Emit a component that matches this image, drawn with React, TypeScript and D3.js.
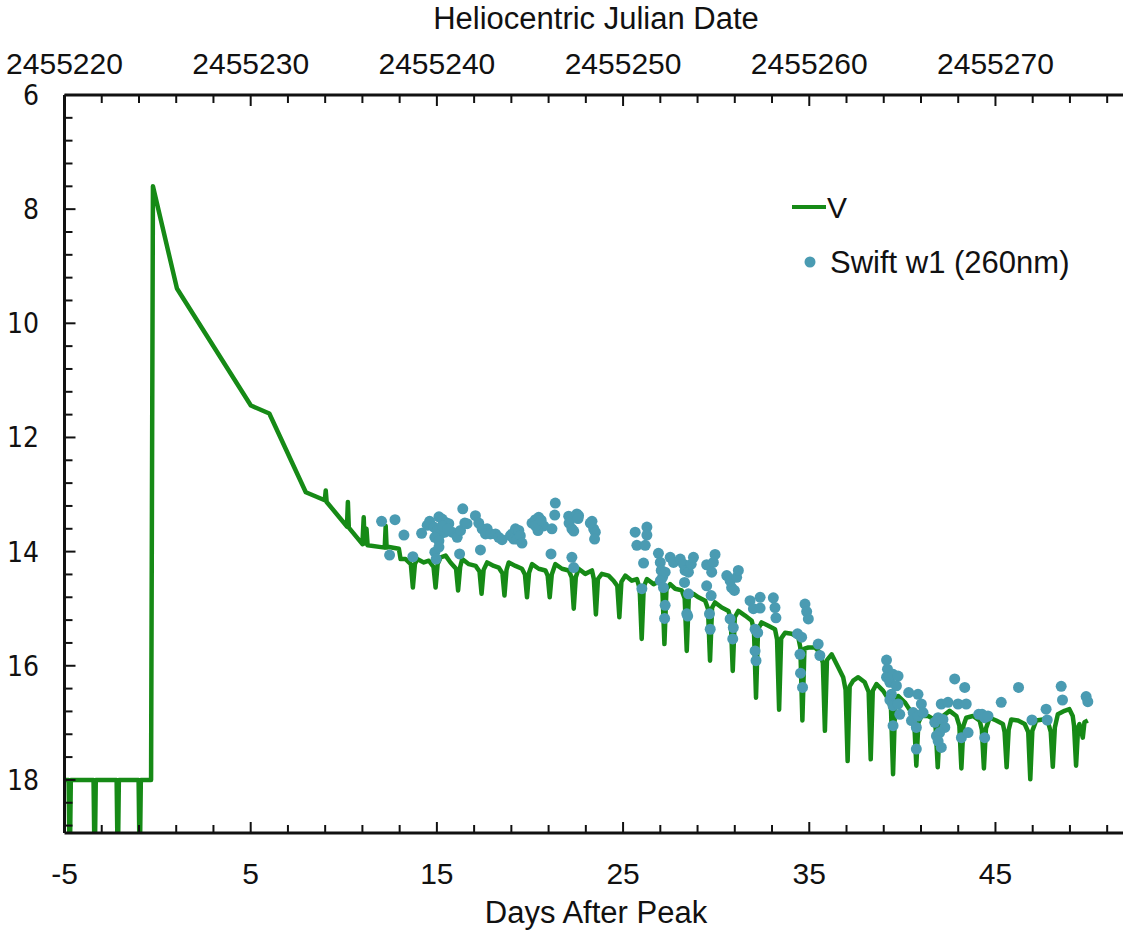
import React from "react";
import * as d3 from "d3";

const W = 1123;
const H = 931;

// axis tick labels
const dayLabels = [-5, 5, 15, 25, 35, 45];
const hjdLabels = ["2455220", "2455230", "2455240", "2455250", "2455260", "2455270"];
const magLabels = [6, 8, 10, 12, 14, 16, 18];

// V band light curve: pre-outburst + decline (days after peak, magnitude)
const vOutburst: [number, number][] = [
  [-5.0, 18.0], [-4.78, 18.0], [-4.72, 19.6], [-4.66, 18.0],
  [-3.44, 18.0], [-3.38, 19.6], [-3.32, 18.0],
  [-2.2, 18.0], [-2.14, 19.6], [-2.08, 18.0],
  [-1.02, 18.0], [-0.96, 19.6], [-0.9, 18.0],
  [-0.35, 18.0], [-0.25, 7.6], [1.04, 9.39], [5.01, 11.44], [6.0, 11.58],
  [7.96, 12.96], [8.98, 13.1], [9.03, 12.93], [9.08, 13.13],
  [10.17, 13.56], [10.22, 13.13], [10.27, 13.58],
  [11.0, 13.87], [11.07, 13.4], [11.12, 13.86], [11.22, 13.6], [11.28, 13.89],
  [12.2, 13.93], [12.25, 13.55], [12.3, 13.93], [12.43, 13.92],
];

// V band light curve: eclipsing phase (days after peak, magnitude)
const vEclipsing: [number, number][] = [
  [12.43, 13.92], [12.96, 13.95], [13.05, 14.13], [13.32, 14.13], [13.6, 14.22], [13.71, 14.63], [13.82, 14.22],
  [13.94, 14.13], [14.3, 14.19], [14.57, 14.16], [14.82, 14.27], [14.93, 14.63], [15.04, 14.22],
  [15.2, 14.1], [15.47, 14.07], [15.73, 14.19], [16.03, 14.3], [16.14, 14.68], [16.25, 14.27],
  [16.36, 14.13], [16.72, 14.22], [17.08, 14.25], [17.29, 14.35], [17.4, 14.74], [17.51, 14.32],
  [17.7, 14.19], [18.06, 14.25], [18.32, 14.28], [18.52, 14.38], [18.63, 14.77], [18.74, 14.32],
  [18.86, 14.19], [19.22, 14.25], [19.57, 14.3], [19.73, 14.4], [19.84, 14.8], [19.95, 14.37],
  [20.11, 14.22], [20.47, 14.3], [20.83, 14.33], [20.95, 14.42], [21.06, 14.8], [21.17, 14.4],
  [21.36, 14.22], [21.72, 14.3], [22.08, 14.33], [22.24, 14.45], [22.35, 15.0], [22.46, 14.45],
  [22.61, 14.3], [22.97, 14.39], [23.33, 14.33], [23.43, 14.48], [23.54, 15.1], [23.65, 14.48],
  [23.86, 14.39], [24.22, 14.42], [24.49, 14.51], [24.69, 14.6], [24.8, 15.15], [24.91, 14.53],
  [25.12, 14.42], [25.47, 14.51], [25.74, 14.48], [25.89, 14.64], [26.0, 15.53], [26.11, 14.62],
  [26.28, 14.48], [26.64, 14.57], [27.0, 14.51], [27.11, 14.66], [27.22, 15.62], [27.33, 14.66],
  [27.53, 14.57], [27.8, 14.65], [28.15, 14.68], [28.31, 14.82], [28.42, 15.74], [28.53, 14.8],
  [28.78, 14.74], [29.05, 14.8], [29.41, 14.86], [29.56, 15.0], [29.67, 15.91], [29.78, 14.98],
  [29.94, 14.89], [30.3, 14.98], [30.66, 15.04], [30.78, 15.18], [30.89, 16.09], [31.0, 15.15],
  [31.19, 15.04], [31.55, 15.12], [31.91, 15.21], [32.03, 15.38], [32.14, 16.56], [32.25, 15.36],
  [32.44, 15.24], [32.8, 15.3], [33.16, 15.36], [33.27, 15.54], [33.38, 16.77], [33.49, 15.52],
  [33.7, 15.42], [34.05, 15.44], [34.41, 15.5], [34.52, 15.68], [34.63, 16.96], [34.74, 15.7],
  [34.95, 15.68], [35.31, 15.68], [35.57, 15.77], [35.73, 15.95], [35.84, 17.14], [35.95, 15.9],
  [36.2, 15.8], [36.56, 16.03], [36.82, 16.2], [36.95, 16.42], [37.06, 17.67], [37.17, 16.36],
  [37.36, 16.26], [37.63, 16.2], [37.98, 16.29], [38.19, 16.46], [38.3, 17.64], [38.41, 16.44],
  [38.61, 16.32], [38.97, 16.44], [39.24, 16.58], [39.39, 16.76], [39.5, 17.9], [39.61, 16.7],
  [39.77, 16.53], [40.13, 16.64], [40.49, 16.82], [40.64, 17.0], [40.75, 17.75], [40.86, 17.0],
  [41.02, 16.88], [41.38, 16.88], [41.7, 16.94], [41.79, 17.1], [41.9, 17.78], [42.01, 17.05],
  [42.18, 16.88], [42.54, 16.79], [42.9, 16.88], [43.06, 17.05], [43.17, 17.8], [43.28, 17.05],
  [43.43, 16.91], [43.79, 16.88], [44.15, 16.96], [44.27, 17.12], [44.38, 17.8], [44.49, 17.1],
  [44.69, 16.91], [45.04, 16.96], [45.4, 17.02], [45.49, 17.16], [45.6, 17.78], [45.71, 17.12],
  [45.85, 16.94], [46.21, 16.96], [46.57, 17.02], [46.76, 17.16], [46.87, 17.99], [46.98, 17.14],
  [47.19, 16.96], [47.55, 16.94], [47.85, 17.02], [47.97, 17.16], [48.08, 17.77], [48.19, 17.08],
  [48.35, 16.85], [48.71, 16.79], [48.97, 16.76], [49.15, 16.88], [49.22, 17.05], [49.33, 17.75],
  [49.44, 17.08], [49.51, 17.02], [49.69, 17.26], [49.78, 16.99], [49.96, 16.96],
];

// Swift UVOT w1 (260nm) photometry (days after peak, magnitude)
const swiftW1: [number, number][] = [
  [12.03, 13.47], [12.75, 13.44], [13.23, 13.71], [12.46, 14.06], [13.71, 14.09], [14.18, 13.68],
  [14.48, 13.54], [14.61, 13.47], [14.84, 13.57], [15.11, 13.39], [15.28, 13.43], [15.47, 13.49],
  [15.64, 13.51], [15.02, 13.63], [15.2, 13.69], [15.43, 13.66], [15.82, 13.66], [14.89, 13.75],
  [15.11, 13.81], [14.89, 14.01], [14.96, 14.13], [15.11, 13.92], [15.3, 13.55], [15.6, 13.6],
  [16.22, 14.04], [16.09, 13.75], [16.27, 13.63], [16.39, 13.25], [16.5, 13.5], [16.62, 13.51],
  [17.07, 13.37], [17.25, 13.5], [17.43, 13.6], [17.7, 13.6], [17.61, 13.69], [17.34, 13.97],
  [17.88, 13.69], [18.15, 13.69], [18.32, 13.75], [18.5, 13.79],
  [18.95, 13.72], [19.04, 13.69], [19.13, 13.78], [19.22, 13.6], [19.31, 13.78], [19.4, 13.63],
  [19.48, 13.72], [19.57, 13.85],
  [20.11, 13.5], [20.29, 13.44], [20.47, 13.4], [20.56, 13.5], [20.74, 13.55], [20.43, 13.63],
  [20.3, 13.55], [20.6, 13.45],
  [21.36, 13.15], [21.33, 13.36], [21.18, 13.6], [21.13, 14.04],
  [22.08, 13.38], [22.1, 13.5], [22.25, 13.6], [22.35, 13.64], [22.52, 13.34], [22.61, 13.37],
  [22.58, 13.42], [22.25, 14.1], [22.35, 14.28],
  [23.33, 13.47], [23.42, 13.6], [23.51, 13.66], [23.47, 13.78], [23.24, 13.5],
  [25.65, 13.66], [26.28, 13.57], [26.28, 13.71], [25.74, 13.89], [26.19, 13.89], [26.1, 14.2],
  [26.01, 14.65],
  [26.9, 14.03], [27.0, 14.19], [27.05, 14.33], [27.12, 14.45], [27.26, 14.36], [27.0, 14.51],
  [27.17, 14.63], [27.26, 14.94], [27.23, 15.17],
  [27.53, 14.1], [27.71, 14.19], [28.07, 14.13], [28.24, 14.22], [28.33, 14.33], [28.51, 14.36],
  [28.66, 14.22], [28.78, 14.1], [28.3, 14.54], [28.51, 14.74], [28.42, 15.09], [28.47, 15.13],
  [29.49, 14.23], [29.85, 14.19], [29.94, 14.05], [29.76, 14.36], [29.49, 14.6], [29.73, 14.77],
  [29.64, 15.09], [29.68, 15.36],
  [30.57, 14.42], [30.75, 14.51], [30.83, 14.63], [30.98, 14.68], [31.1, 14.45], [31.19, 14.33],
  [30.75, 15.18], [30.92, 15.33], [30.89, 15.53],
  [31.82, 14.86], [32.0, 15.0], [32.36, 14.8], [32.36, 14.99], [32.09, 15.36], [32.23, 15.42],
  [32.09, 15.74], [32.14, 15.91],
  [33.07, 14.81], [33.16, 14.98], [33.21, 15.16],
  [34.77, 14.92], [34.86, 15.05], [34.95, 15.18], [34.37, 15.44], [34.59, 15.5], [34.5, 15.8],
  [34.53, 16.13], [34.64, 16.38],
  [35.48, 15.62], [35.57, 15.82],
  [39.15, 15.9], [39.2, 16.06], [39.15, 16.2], [39.33, 16.29], [39.5, 16.15], [39.77, 16.18],
  [39.68, 16.35], [39.41, 16.5], [39.33, 16.6], [39.5, 16.7], [39.77, 16.67], [39.86, 16.85],
  [39.5, 17.05],
  [40.34, 16.47], [40.84, 16.5], [41.02, 16.67], [40.58, 16.82], [40.49, 16.96], [40.84, 16.88],
  [40.75, 17.08], [41.11, 16.82], [40.75, 17.46],
  [41.74, 16.99], [41.92, 16.91], [42.09, 16.67], [42.18, 16.94], [42.28, 17.08], [42.0, 17.17],
  [41.83, 17.23], [42.09, 17.43], [41.92, 17.32],
  [42.45, 16.64], [42.81, 16.23], [42.99, 16.67], [43.35, 16.38], [43.43, 16.67], [43.17, 17.26],
  [43.53, 17.17],
  [44.1, 16.85], [44.28, 16.85], [44.42, 16.91], [44.6, 16.88], [44.42, 17.26],
  [45.31, 16.64], [46.24, 16.38], [46.96, 16.95], [47.72, 16.76], [47.78, 16.95], [48.53, 16.36],
  [48.6, 16.6], [49.87, 16.54], [49.96, 16.63],
];

const GREEN = "#168a16";
const BLUE = "#4a9bb2";
const LEFT = 64.5;
const TOP = 95;
const BOTTOM = 833;

export default function App() {
  const x = d3.scaleLinear().domain([-5, 51.85]).range([LEFT, W]);
  const y = d3.scaleLinear().domain([6, 18.93]).range([TOP, BOTTOM]);
  const line = d3
    .line<[number, number]>()
    .x((d) => x(d[0]))
    .y((d) => y(d[1]));
  const vPath = line([...vOutburst, ...vEclipsing.slice(1)]) || "";

  const xMinor = d3.range(-5, 52, 2);
  const yMinor = d3.range(0, 33).map((i) => 6 + i * 0.4).filter((v) => v <= 18.93);

  const tickFont = "'Liberation Sans', Arial, sans-serif";
  const leftFont = "'DejaVu Sans Condensed', 'DejaVu Sans', sans-serif";

  return (
    <svg
      width={W}
      height={H}
      style={{ position: "absolute", left: 0, top: 0, background: "#fff" }}
    >
      <defs>
        <clipPath id="plot">
          <rect x={LEFT} y={TOP} width={W - LEFT} height={BOTTOM - TOP} />
        </clipPath>
      </defs>

      <g clipPath="url(#plot)">
        <path d={vPath} fill="none" stroke={GREEN} strokeWidth={4.5} strokeLinejoin="round" />
        {swiftW1.map((d, i) => (
          <circle key={i} cx={x(d[0])} cy={y(d[1])} r={5.5} fill={BLUE} />
        ))}
      </g>

      <g stroke="#111" fill="none">
        <line x1={LEFT} x2={W} y1={TOP} y2={TOP} strokeWidth={3} />
        <line x1={LEFT} x2={W} y1={BOTTOM} y2={BOTTOM} strokeWidth={3} />
        <line x1={LEFT} x2={LEFT} y1={TOP} y2={BOTTOM} strokeWidth={3} />
        {xMinor.map((d) => {
          const major = dayLabels.includes(d);
          const len = major ? 11 : 8;
          return (
            <g key={"xt" + d}>
              <line x1={x(d)} x2={x(d)} y1={TOP} y2={TOP + len} strokeWidth={2} />
              <line x1={x(d)} x2={x(d)} y1={BOTTOM} y2={BOTTOM - len} strokeWidth={2} />
            </g>
          );
        })}
        {yMinor.map((d, i) => {
          const major = i % 5 === 0;
          const len = major ? 11 : 8;
          return (
            <line key={"yt" + i} x1={LEFT} x2={LEFT + len} y1={y(d)} y2={y(d)} strokeWidth={2} />
          );
        })}
      </g>

      <g fontFamily={tickFont} fill="#111" textAnchor="middle">
        {dayLabels.map((d) => (
          <text key={"bl" + d} x={x(d)} y={884} fontSize={30}>
            {d}
          </text>
        ))}
        {dayLabels.map((d, i) => (
          <text key={"tl" + d} x={x(d)} y={74} fontSize={30}>
            {hjdLabels[i]}
          </text>
        ))}
        <text x={596} y={29} fontSize={31}>Heliocentric Julian Date</text>
        <text x={596} y={923} fontSize={31}>Days After Peak</text>
      </g>
      <g fontFamily={leftFont} fontSize={28} fill="#111" textAnchor="end">
        {magLabels.map((m) => (
          <text key={"ml" + m} x={39} y={y(m) + 10}>
            {m}
          </text>
        ))}
      </g>

      <g>
        <line x1={792} x2={826} y1={207} y2={207} stroke={GREEN} strokeWidth={4} />
        <text x={827} y={218} fontFamily={tickFont} fontSize={30} fill="#111">V</text>
        <circle cx={810} cy={262} r={5.5} fill={BLUE} />
        <text x={830} y={273} fontFamily={tickFont} fontSize={31} fill="#111">
          Swift w1 (260nm)
        </text>
      </g>
    </svg>
  );
}
